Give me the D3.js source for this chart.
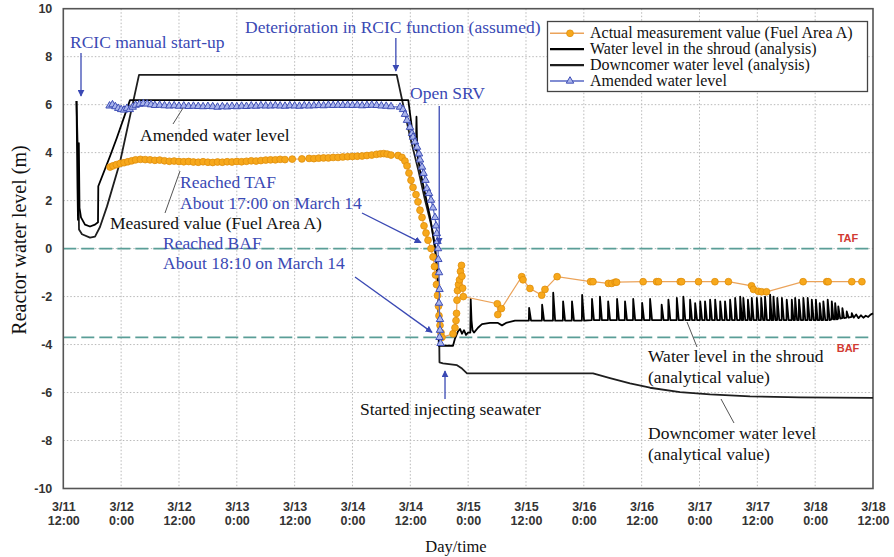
<!DOCTYPE html>
<html>
<head>
<meta charset="utf-8">
<script src="https://cdn.jsdelivr.net/npm/d3@7"></script>
<style>
html, body { margin: 0; padding: 0; background: #fff; }
svg { display: block; }
</style>
</head>
<body>
<svg id="chart" width="894" height="557"></svg>
<script>
// Time is counted in hours from 3/11 12:00.
const tickHours = [0, 12, 24, 36, 48, 60, 72, 84, 96, 108, 120, 132, 144, 156, 168];
const tickDates = ["3/11", "3/12", "3/12", "3/13", "3/13", "3/14", "3/14", "3/15", "3/15", "3/16", "3/16", "3/17", "3/17", "3/18", "3/18"];
const tickTimes = ["12:00", "0:00", "12:00", "0:00", "12:00", "0:00", "12:00", "0:00", "12:00", "0:00", "12:00", "0:00", "12:00", "0:00", "12:00"];
const levelTicks = [10, 8, 6, 4, 2, 0, -2, -4, -6, -8, -10];
const tafLevel = 0;
const bafLevel = -3.7;

// Actual measurement value (Fuel Area A) [hour, level m]
const measured = [
  [9.7,3.40],[10.3,3.45],[11,3.50],[11.8,3.55],[12.6,3.58],[13.4,3.62],[14.2,3.66],[15,3.70],[16,3.72],[17,3.71],
  [18,3.70],[19,3.68],[20,3.69],[21,3.66],[22,3.64],[23,3.65],[24,3.63],[25,3.62],[26,3.63],[27,3.61],
  [28,3.60],[29,3.62],[30,3.60],[31,3.59],[32,3.61],[33,3.60],[34,3.62],[35,3.61],[36,3.63],[37,3.62],
  [38,3.64],[39,3.66],[40,3.65],[41,3.67],[42,3.69],[43,3.70],[44,3.70],[45,3.72],[46,3.71],[47.5,3.73],
  [49.5,3.74],[51,3.76],[52,3.75],[53,3.77],[54,3.78],[55,3.78],[56,3.80],[57,3.80],[58,3.82],[59,3.83],
  [60,3.84],[61,3.85],[62,3.86],[63,3.88],[64,3.90],[65,3.93],[65.8,3.95],[66.5,3.96],[67.2,3.94],[68,3.90],
  [69.45,3.88],[70.27,3.80],[70.89,3.65],[71.31,3.45],[71.72,3.15],[72.14,2.85],[72.56,2.55],[73.18,2.25],
  [73.59,1.95],[74.01,1.60],[74.43,1.30],[74.84,0.95],[75.26,0.65],[75.67,0.35],[76.29,0.0],[76.71,-0.35],
  [77.02,-0.75],[77.23,-1.1],[77.43,-1.5],[77.64,-1.95],[77.85,-2.4],[77.95,-2.8],[78.16,-3.2],[78.37,-3.5],
  [78.57,-3.7],[80.86,-3.55],[81.27,-3.3],[81.48,-3.0],[81.59,-2.7],[81.69,-2.15],[81.79,-1.75],[82.0,-1.5],
  [82.21,-1.3],[82.41,-0.95],[82.62,-0.7],[82.7,-1.15],[82.85,-1.65],[83.0,-2.0],
  [90.05,-2.3],[90.15,-2.75],[90.9,-2.5],[95.11,-1.17],[95.38,-1.3],[96.83,-1.66],[99.26,-1.94],[99.94,-1.7],
  [102.46,-1.17],[109.4,-1.38],[109.9,-1.38],[113.1,-1.45],[113.8,-1.45],[114.5,-1.4],[114.8,-1.4],[120.3,-1.38],
  [123.1,-1.38],[123.5,-1.38],[128.0,-1.38],[128.3,-1.38],[131.8,-1.38],[135.2,-1.38],[138.0,-1.38],[142.8,-1.55],
  [143.2,-1.7],[144.2,-1.78],[144.9,-1.8],[145.9,-1.8],[153.5,-1.38],[158.4,-1.38],[158.7,-1.38],[163.6,-1.38],
  [165.7,-1.38]
];

// Water level in the shroud (analysis) [hour, level m]
const shroud = [
  [2.74,6.15],[2.95,2.5],[3.05,1.2],[3.22,4.4],[3.36,1.7],[3.67,1.3],[4.5,1.0],[5.54,0.92],[6.58,1.0],[7.2,1.1],
  [7.26,2.6],[9.69,3.85],[11.08,4.6],[13.84,6.19],[71.58,6.19],[72.29,5.08],[72.97,4.25],[73.18,4.1],[73.28,5.5],
  [73.45,3.95],[74.01,3.27],[75.05,2.3],[76.09,1.33],[77.13,0.07],[77.54,-0.9],[77.81,-1.8],[77.91,-4.05],
  [80.86,-4.05],[81.27,-3.75],[81.89,-3.45],[82.31,-3.35],[82.72,-3.55],[83.14,-3.4],[83.55,-3.6],[83.97,-3.5],
  [84.45,-3.5],[84.53,-2.1],[84.7,-3.0],[84.9,-3.4],[85.21,-3.5],[86.04,-3.3],[86.87,-3.15],[88.53,-3.1],
  [90.19,-3.1],[91.02,-3.2],[91.85,-3.1],[93.72,-3.0],
  [96.6,-3.0],[96.65,-2.47],[97.05,-3.0],
  [99.3,-3.0],[99.35,-2.34],[99.75,-3.0],
  [101.6,-3.0],[101.65,-1.84],[102.05,-3.0],
  [103.65,-3.0],[103.7,-2.2],[104.1,-3.0],
  [105.5,-3.0],[105.55,-2.2],[105.95,-3.0],
  [107.6,-3.0],[107.65,-1.93],[108.05,-3.0],
  [109.65,-2.98],[109.7,-2.1],[110.1,-2.98],
  [111.3,-2.98],[111.35,-2.0],[111.75,-2.98],
  [113.0,-2.98],[113.05,-2.2],[113.45,-2.98],
  [114.85,-2.98],[114.9,-2.1],[115.3,-2.98],
  [116.5,-2.98],[116.55,-2.2],[116.95,-2.98],
  [118.2,-2.98],[118.25,-2.1],[118.65,-2.98],
  [120.05,-2.98],[120.1,-2.26],[120.5,-2.98],
  [121.7,-2.98],[121.75,-2.1],[122.15,-2.98],
  [124.1,-2.98],[124.15,-2.34],[124.55,-2.98],
  [125.5,-2.98],[125.55,-2.13],[125.95,-2.98],
  [127.25,-2.98],[127.3,-2.06],[127.7,-2.98],
  [128.6,-2.98],[128.65,-2.0],[129.05,-2.98],
  [130.0,-2.98],[130.05,-2.13],[130.45,-2.98],
  [131.05,-2.98],[131.1,-2.27],[131.5,-2.98],
  [132.1,-2.98],[132.15,-2.2],[132.55,-2.98],
  [133.1,-2.98],[133.15,-2.2],[133.55,-2.98],
  [134.15,-2.98],[134.2,-2.13],[134.6,-2.98],
  [135.2,-2.98],[135.25,-2.13],[135.65,-2.98],
  [136.25,-2.98],[136.3,-2.2],[136.7,-2.98],
  [137.25,-2.98],[137.3,-2.2],[137.7,-2.98],
  [138.3,-2.98],[138.35,-2.13],[138.75,-2.98],
  [139.35,-2.98],[139.4,-2.06],[139.8,-2.98],
  [140.4,-2.98],[140.45,-2.0],[140.8,-2.98],
  [141.05,-2.98],[141.1,-2.06],[141.5,-2.98],
  [142.0,-2.98],[142.05,-2.13],[142.45,-2.98],
  [142.8,-2.98],[142.85,-2.06],[143.25,-2.98],
  [143.85,-2.98],[143.9,-2.06],[144.3,-2.98],
  [144.75,-2.98],[144.8,-2.06],[145.2,-2.98],
  [145.55,-2.98],[145.6,-2.0],[146.0,-2.98],
  [146.6,-2.98],[146.65,-1.92],[147.0,-2.98],
  [147.3,-2.98],[147.35,-2.0],[147.75,-2.98],
  [148.1,-2.98],[148.15,-2.06],[148.55,-2.98],
  [149.05,-2.98],[149.1,-2.06],[149.5,-2.98],
  [150.05,-2.98],[150.1,-2.13],[150.5,-2.98],
  [151.1,-2.98],[151.15,-2.13],[151.5,-2.98],
  [151.8,-2.98],[151.85,-2.06],[152.25,-2.98],
  [152.6,-2.98],[152.65,-2.13],[153.05,-2.98],
  [153.5,-2.98],[153.55,-2.06],[153.95,-2.98],
  [154.4,-2.98],[154.45,-2.06],[154.85,-2.98],
  [155.25,-2.98],[155.3,-2.13],[155.7,-2.98],
  [156.1,-2.98],[156.15,-2.13],[156.5,-2.98],
  [156.9,-2.98],[156.95,-2.27],[157.3,-2.98],
  [157.65,-2.98],[157.7,-2.2],[158.1,-2.98],
  [158.55,-2.98],[158.6,-2.13],[159.0,-2.98],
  [159.4,-2.95],[159.45,-2.2],[159.8,-2.95],
  [160.1,-2.95],[160.15,-2.27],[160.5,-2.95],
  [160.75,-2.92],[160.8,-2.41],[161.2,-2.92],
  [161.6,-2.9],[161.65,-2.48],[162.0,-2.9],
  [162.5,-2.88],[162.55,-2.62],[162.95,-2.88],
  [163.55,-2.85],[163.6,-2.69],[164.0,-2.88],
  [164.5,-2.75],[165.0,-2.9],[165.5,-2.78],[166.0,-2.88],[166.5,-2.8],[167.0,-2.85],[167.5,-2.75],[168.0,-2.7]
];

// Downcomer water level (analysis) [hour, level m]
const downcomer = [
  [2.74,6.15],[3.05,3.7],[3.26,0.8],[3.88,0.6],[5.54,0.46],[6.58,0.5],[7.61,0.9],[9.07,1.76],[11.76,3.6],
  [15.71,7.24],[69.18,7.24],[71.94,4.66],[73.66,3.27],[75.05,2.02],[76.44,0.9],[77.12,0.0],[77.64,-1.0],
  [77.85,-2.5],[78.01,-4.0],[78.05,-4.74],[78.78,-4.78],[81.69,-4.86],[82.73,-5.0],[83.76,-5.2],[109.91,-5.2],
  [113.43,-5.4],[117.58,-5.62],[121.73,-5.8],[127.96,-5.98],[134.18,-6.08],[142.48,-6.16],[152.86,-6.2],[168,-6.22]
];

// Amended water level [hour, level m]
const amended = [
  [9.6,5.95],[10.2,6.00],[10.8,5.92],[11.4,5.85],[12,5.80],[12.6,5.78],[13.2,5.85],[13.8,5.80],[14.4,5.90],[15,5.98],
  [15.8,6.02],[16.6,6.05],[17.4,6.03],[18.2,6.00],[19,5.97],[20,5.98],[21,5.96],[22,5.95],[23,5.96],[24,5.94],
  [25,5.95],[26,5.93],[27,5.94],[28,5.93],[29,5.92],[30,5.93],[31,5.92],[32,5.90],[33,5.92],[34,5.91],
  [35,5.93],[36,5.92],[37,5.94],[38,5.93],[39,5.95],[40,5.94],[41,5.96],[42,5.95],[43,5.95],[44,5.96],
  [45,5.95],[46,5.94],[47,5.96],[48,5.95],[49,5.94],[50,5.96],[51,5.95],[52,5.96],[53,5.97],[54,5.96],
  [55,5.98],[56,5.97],[57,5.98],[58,5.97],[59,5.98],[60,5.97],[61,5.98],[62,5.96],[63,5.97],[64,5.98],
  [65,5.97],[66,5.95],[67,5.94],[68,5.92],[69.86,5.90],[70.48,5.80],
  [70.89,5.6],[71.31,5.35],[71.93,5.06],[72.35,4.8],[72.56,4.65],[72.97,4.45],[73.39,4.23],[73.80,3.95],
  [74.01,3.7],[74.43,3.4],[74.74,3.14],[75.15,2.85],[75.46,2.5],[75.88,2.3],[76.29,2.02],[76.71,1.7],
  [77.12,1.3],[77.33,0.95],[77.50,0.63],[77.64,0.3],[77.75,0.0],[77.81,-0.45],[77.96,-1.0],[78.06,-1.7],
  [77.96,-2.27],[78.16,-2.95],[78.16,-3.4],[78.06,-3.7],[78.27,-3.95]
];

const plot = { left: 63.3, right: 873, top: 8.7, bottom: 488.5 };

const svg = d3.select("#chart");
const x = d3.scaleLinear().domain([0, 168]).range([plot.left, plot.right]);
const y = d3.scaleLinear().domain([-10, 10]).range([plot.bottom, plot.top]);

const serif = "'Liberation Serif', 'Times New Roman', serif";
const sans = "'Liberation Sans', Arial, sans-serif";
const blue = "#3a49b4";

// arrow heads
const defs = svg.append("defs");
function arrowMarker(id, color) {
  defs.append("marker")
    .attr("id", id)
    .attr("viewBox", "0 0 10 10")
    .attr("refX", 9).attr("refY", 5)
    .attr("markerWidth", 7).attr("markerHeight", 7)
    .attr("markerUnits", "userSpaceOnUse")
    .attr("orient", "auto")
    .append("path").attr("d", "M0,0 L10,5 L0,10 z").attr("fill", color);
}
arrowMarker("arrowBlue", blue);

// dotted grid
const grid = svg.append("g");
grid.selectAll("line.vg")
  .data(tickHours.filter(h => h > 0 && h < 168))
  .join("line")
  .attr("x1", d => x(d)).attr("x2", d => x(d))
  .attr("y1", plot.top).attr("y2", plot.bottom)
  .attr("stroke", "#b9b9b9").attr("stroke-width", 1).attr("stroke-dasharray", "1.5,2");
grid.selectAll("line.hg")
  .data(levelTicks.filter(v => v > -10 && v < 10))
  .join("line")
  .attr("x1", plot.left).attr("x2", plot.right)
  .attr("y1", d => y(d)).attr("y2", d => y(d))
  .attr("stroke", "#b9b9b9").attr("stroke-width", 1).attr("stroke-dasharray", "1.5,2");

// TAF / BAF reference lines
[[tafLevel, "TAF", -7], [bafLevel, "BAF", 15]].forEach(([lv, name, dy]) => {
  svg.append("line")
    .attr("x1", plot.left).attr("x2", plot.right)
    .attr("y1", y(lv)).attr("y2", y(lv))
    .attr("stroke", "#5a9e97").attr("stroke-width", 1.6).attr("stroke-dasharray", "13,5");
  svg.append("text")
    .attr("x", 848).attr("y", y(lv) + dy)
    .attr("text-anchor", "middle")
    .attr("font-family", sans).attr("font-size", 11).attr("font-weight", "bold")
    .attr("fill", "#d23a32")
    .text(name);
});

// axes
const xAxis = svg.append("g")
  .attr("transform", `translate(0,${plot.bottom})`)
  .call(d3.axisBottom(x).tickValues(tickHours).tickSize(0).tickPadding(10).tickFormat((d, i) => tickDates[i]));
xAxis.select(".domain").remove();
xAxis.selectAll(".tick text").each(function(d, i) {
  const t = d3.select(this);
  t.text(null).attr("y", 0).attr("dy", null);
  t.append("tspan").attr("x", 0).attr("y", 22).text(tickDates[i]);
  t.append("tspan").attr("x", 0).attr("y", 36).text(tickTimes[i]);
});
xAxis.selectAll(".tick text")
  .attr("font-family", sans).attr("font-size", 12.5).attr("font-weight", "bold").attr("fill", "#333");

const yAxis = svg.append("g")
  .attr("transform", `translate(${plot.left},0)`)
  .call(d3.axisLeft(y).tickValues(levelTicks).tickSize(0).tickPadding(11).tickFormat(d => String(d)));
yAxis.select(".domain").remove();
yAxis.selectAll(".tick text")
  .attr("font-family", sans).attr("font-size", 12.5).attr("font-weight", "bold").attr("fill", "#333");

// plot frame
svg.append("rect")
  .attr("x", plot.left).attr("y", plot.top)
  .attr("width", plot.right - plot.left).attr("height", plot.bottom - plot.top)
  .attr("fill", "none").attr("stroke", "#555").attr("stroke-width", 1.6);

// axis titles
svg.append("text")
  .attr("transform", "translate(19,240) rotate(-90)")
  .attr("text-anchor", "middle").attr("dominant-baseline", "central")
  .attr("font-family", serif).attr("font-size", 20).attr("fill", "#111")
  .text("Reactor water level (m)");
svg.append("text")
  .attr("x", 456).attr("y", 552)
  .attr("text-anchor", "middle")
  .attr("font-family", serif).attr("font-size", 16.5).attr("fill", "#111")
  .text("Day/time");

// series
const line = d3.line().x(d => x(d[0])).y(d => y(d[1]));

svg.append("path").datum(downcomer)
  .attr("d", line).attr("fill", "none")
  .attr("stroke", "#1e1e1e").attr("stroke-width", 1.8).attr("stroke-linejoin", "round");
svg.append("path").datum(shroud)
  .attr("d", line).attr("fill", "none")
  .attr("stroke", "#000").attr("stroke-width", 1.8).attr("stroke-linejoin", "round");

svg.append("path").datum(measured)
  .attr("d", line).attr("fill", "none")
  .attr("stroke", "#eba35a").attr("stroke-width", 1.2);
svg.append("g").selectAll("circle")
  .data(measured).join("circle")
  .attr("cx", d => x(d[0])).attr("cy", d => y(d[1])).attr("r", 3.4)
  .attr("fill", "#f7a81b").attr("stroke", "#e08e0b").attr("stroke-width", 0.8);

svg.append("path").datum(amended)
  .attr("d", line).attr("fill", "none")
  .attr("stroke", "#5767c4").attr("stroke-width", 1.2);
const tri = d3.symbol().type(d3.symbolTriangle).size(24);
svg.append("g").selectAll("path")
  .data(amended).join("path")
  .attr("d", tri)
  .attr("transform", d => `translate(${x(d[0])},${y(d[1])})`)
  .attr("fill", "#aab5ec").attr("stroke", "#3f4fb6").attr("stroke-width", 1);

// legend
const lg = svg.append("g");
lg.append("rect")
  .attr("x", 547.5).attr("y", 21.5).attr("width", 320).attr("height", 70)
  .attr("fill", "#fff").attr("stroke", "#444").attr("stroke-width", 1.3);
const legendRows = [
  { label: "Actual measurement value (Fuel Area A)", stroke: "#eba35a", width: 1.4, mark: "circle" },
  { label: "Water level in the shroud (analysis)", stroke: "#000", width: 2.2, mark: null },
  { label: "Downcomer water level (analysis)", stroke: "#1e1e1e", width: 2.2, mark: null },
  { label: "Amended water level", stroke: "#5767c4", width: 1.4, mark: "triangle" }
];
legendRows.forEach((r, i) => {
  const cy = 33.3 + i * 15.9;
  lg.append("line").attr("x1", 550).attr("x2", 584).attr("y1", cy).attr("y2", cy)
    .attr("stroke", r.stroke).attr("stroke-width", r.width);
  if (r.mark === "circle") {
    lg.append("circle").attr("cx", 570).attr("cy", cy).attr("r", 3.4)
      .attr("fill", "#f7a81b").attr("stroke", "#e08e0b").attr("stroke-width", 0.8);
  } else if (r.mark === "triangle") {
    lg.append("path").attr("d", tri).attr("transform", `translate(570,${cy})`)
      .attr("fill", "#aab5ec").attr("stroke", "#3f4fb6").attr("stroke-width", 1);
  }
  lg.append("text").attr("x", 590).attr("y", cy + 5)
    .attr("font-family", serif).attr("font-size", 16).attr("fill", "#111")
    .text(r.label);
});

// annotations
const ann = svg.append("g").attr("font-family", serif).attr("font-size", 17.5);
function note(tx, ty, lines, color) {
  lines.forEach((s, i) => {
    ann.append("text").attr("x", tx).attr("y", ty + i * 20.5).attr("fill", color).text(s);
  });
}
function arrow(x1, y1, x2, y2) {
  ann.append("line").attr("x1", x1).attr("y1", y1).attr("x2", x2).attr("y2", y2)
    .attr("stroke", blue).attr("stroke-width", 1.3).attr("marker-end", "url(#arrowBlue)");
}
function leader(x1, y1, x2, y2) {
  ann.append("line").attr("x1", x1).attr("y1", y1).attr("x2", x2).attr("y2", y2)
    .attr("stroke", "#555").attr("stroke-width", 1);
}

note(70, 47.5, ["RCIC manual start-up"], blue);
arrow(81, 53, 81, 96);

note(245, 33, ["Deterioration in RCIC function (assumed)"], blue);
arrow(x(69.0), 38, x(69.0), 71);

note(410, 99, ["Open SRV"], blue);
arrow(x(78.0), 106, x(78.0), 244);

note(180, 188, ["Reached TAF", "About 17:00 on March 14"], blue);
arrow(362, 213, 421, y(0.25));

note(163, 248.5, ["Reached BAF", "About 18:10 on March 14"], blue);
arrow(355, 277, 432, y(bafLevel) - 5);

arrow(x(79.2), 399, x(79.2), 371);
note(360, 415, ["Started injecting seawater"], "#111");

note(140, 141, ["Amended water level"], "#111");
leader(173, 124, 183, 108);

note(110, 229, ["Measured value (Fuel Area A)"], "#111");
leader(165, 213, 180, 171);

note(648, 362, ["Water level in the shroud", "(analytical value)"], "#111");
leader(697, 347, 687, 322);

note(648, 439, ["Downcomer water level", "(analytical value)"], "#111");
leader(734, 423, 721, 399);
</script>
</body>
</html>
